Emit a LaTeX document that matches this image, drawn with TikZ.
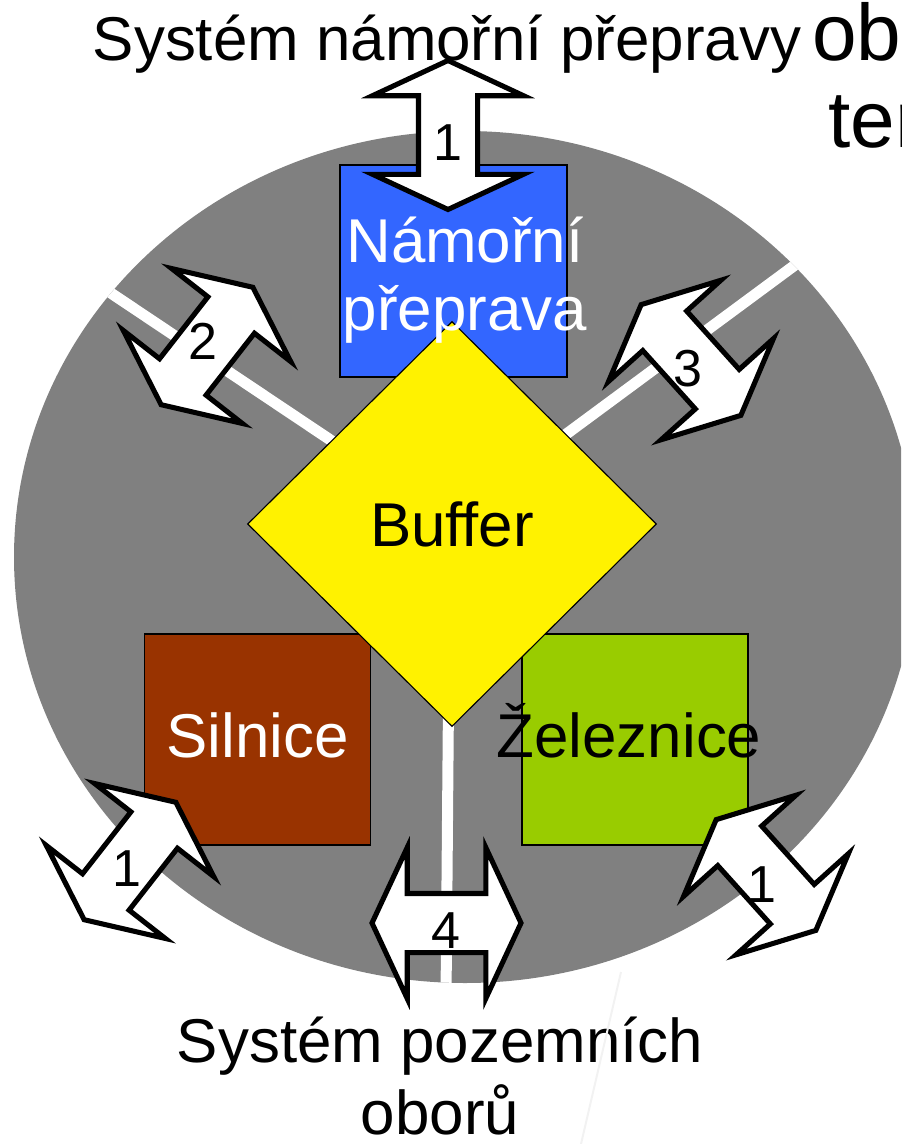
\documentclass[tikz,border=0pt]{standalone}
\usepackage{fontspec}
\setmainfont{Liberation Sans}
\usepackage{tikz}
\usetikzlibrary{shapes.geometric,shapes.arrows}
\definecolor{discgray}{HTML}{808080}
\definecolor{seablue}{HTML}{3366FF}
\definecolor{roadbrown}{HTML}{993300}
\definecolor{railgreen}{HTML}{99CC00}
\newcommand{\pxu}{0.025cm}
\newcommand{\bigfont}{\fontsize{44}{48.4}\selectfont}
\tikzset{
  modebox/.style={draw=black,line width=0.8pt,minimum width=226*\pxu,minimum height=211*\pxu,inner sep=0pt,font=\bigfont,text height=35*\pxu,text depth=0pt},
  bigtxt/.style={font=\bigfont,inner sep=0pt},
  flowarrow/.style={double arrow,draw=black,line width=3.6pt,fill=white,double arrow tip angle=130,double arrow head extend=46*\pxu,inner sep=27*\pxu,minimum height=149*\pxu},
  flownum/.style={font=\fontsize{37}{40}\selectfont,inner sep=0pt},
  sepline/.style={white,line width=11*\pxu}
}

\begin{document}
\begin{tikzpicture}[x=\pxu,y=-\pxu]
\clip (0,0) rectangle (901,1144);
\fill[discgray] (465,557) ellipse [x radius=451,y radius=426];
\begin{scope}
\clip (465,557) ellipse [x radius=451,y radius=426];
\coordinate (hub) at (450,520);
\coordinate (endW) at (60,259);
\coordinate (endE) at (860,217);
\coordinate (endS) at (446,1000);
\draw[sepline] (hub) -- (endW);
\draw[sepline] (hub) -- (endE);
\draw[sepline] (hub) -- (endS);
\end{scope}
\node(sea) at (453.5,271)[modebox,fill=seablue,minimum width=227*\pxu,minimum height=212*\pxu] {};
\node(road) at (257.5,739.5)[modebox,fill=roadbrown,text=white] {Silnice};
\node(rail) at (635,739.5)[modebox,fill=railgreen] {};
\node(buffer) at (452,524)[diamond,draw=black,line width=0.8pt,fill=yellow,minimum width=409*\pxu,minimum height=405*\pxu,inner sep=0pt,font=\bigfont] {Buffer};
\node(railtxt) at (629,757)[bigtxt,anchor=base] {Železnice};
\node(seatxt) at (465,280)[bigtxt,text=white,align=center] {Námořní\\přeprava};
\node(title) at (447,60)[bigtxt,anchor=base] {Systém námořní přepravy};
\node(ob) at (812,60)[bigtxt,anchor=base west,font=\fontsize{57}{60}\selectfont] {ob};
\node(ter) at (828,147)[bigtxt,anchor=base west,font=\fontsize{57}{60}\selectfont] {ter};
\node(land) at (440,1076)[bigtxt,align=center,font=\fontsize{44}{51.2}\selectfont] {Systém pozemních\\oborů};
\node(n1) at (448,135)[flowarrow,rotate=90] {};
\node(w2) at (207,346)[flowarrow,rotate=52] {};
\node(e3) at (691,360)[flowarrow,rotate=-48] {};
\node(sw1) at (130,861)[flowarrow,rotate=52] {};
\node(se1) at (766,875)[flowarrow,rotate=-48] {};
\node(s4) at (446.5,923)[flowarrow] {};
\node(n1num) at (448,143)[flownum] {1};
\node(w2num) at (203,341)[flownum] {2};
\node(e3num) at (688,369)[flownum] {3};
\node(sw1num) at (127,869)[flownum] {1};
\node(se1num) at (762,885)[flownum] {1};
\node(s4num) at (446,931)[flownum] {4};
\coordinate (glintA) at (621,972);
\coordinate (glintB) at (581,1144);
\draw[black!5,line width=2*\pxu] (glintA) -- (glintB);
\end{tikzpicture}
\end{document}
